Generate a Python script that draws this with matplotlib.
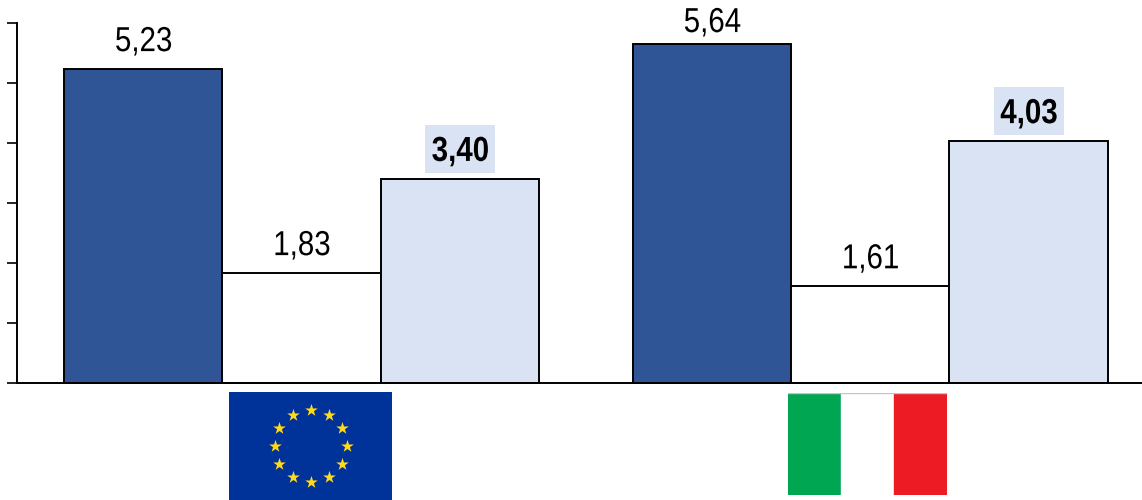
import numpy as np
import matplotlib
matplotlib.use('Agg')
import matplotlib.pyplot as plt
from matplotlib.patches import Rectangle
from matplotlib.path import Path
from matplotlib.patheffects import AbstractPathEffect
from matplotlib.transforms import Affine2D

plt.rcParams['font.family'] = ['Liberation Sans', 'DejaVu Sans']

# valori
first_vals = [5.23, 5.64]
second_vals = [1.83, 1.61]
third_vals = [3.40, 4.03]
y_ticks = [0, 1, 2, 3, 4, 5, 6]

W, H = 1142, 500
fig = plt.figure(figsize=(W / 100, H / 100), dpi=100)


class Narrow(AbstractPathEffect):
    # il riferimento usa un font stretto, qui si comprime il testo in orizzontale
    def __init__(self, sx):
        super().__init__()
        self.sx = sx

    def draw_path(self, renderer, gc, tpath, affine, rgbFace=None):
        xs = tpath.vertices[:, 0]
        cx = (xs.min() + xs.max()) / 2
        squeeze = Affine2D().translate(-cx, 0).scale(self.sx, 1).translate(cx, 0)
        renderer.draw_path(gc, tpath, squeeze + affine, rgbFace)


def label_box(x0, y0, width, height, mutation_size):
    # riquadro fisso 70x48 px, un po' piu in alto del testo
    cx, cy = x0 + width / 2, y0 + height / 2 + 2.5
    return Path([(cx - 35, cy - 24), (cx + 35, cy - 24), (cx + 35, cy + 24),
                 (cx - 35, cy + 24), (cx - 35, cy - 24)], closed=True)


def px_axes(x0, y0, x1, y1, **kw):
    # rettangolo in pixel, origine in alto a sinistra
    return fig.add_axes([x0 / W, 1 - y1 / H, (x1 - x0) / W, (y1 - y0) / H], **kw)


ax = px_axes(17, 22.5, 1142, 382.5)
ax.set_xlim(17, 1142)
ax.set_ylim(0, 6)

width = 158.3
centers = np.array([301.6, 870.2])
colors = ['#2F5597', 'white', '#DAE3F3']
series = [first_vals, second_vals, third_vals]

for i, vals in enumerate(series):
    xs = centers + (i - 1) * width
    ax.bar(xs, vals, width=width, color=colors[i], edgecolor='black', linewidth=1.4, clip_on=False, zorder=2)
    for x, v in zip(xs, vals):
        txt = f'{v:.2f}'.replace('.', ',')
        kw = {}
        if i == 2:
            kw = dict(fontweight='bold', bbox=dict(boxstyle=label_box, facecolor='#DAE3F3', edgecolor='none'))
        # l'etichetta piu alta resta dentro la figura
        dy = 15.5 if v > 5.5 else 19.5
        ax.annotate(txt, (x, v), xytext=(0.4, dy), textcoords='offset points',
                    ha='center', va='center', fontsize=25, color='black',
                    path_effects=[Narrow(0.85)], **kw)

for s in ['top', 'right']:
    ax.spines[s].set_visible(False)
ax.spines['left'].set_linewidth(1.4)
ax.spines['bottom'].set_linewidth(1.4)
ax.spines['bottom'].set_zorder(3)
ax.set_xticks([])
ax.set_yticks(y_ticks)
ax.set_yticklabels([])
ax.tick_params(axis='y', length=7.5, width=1.2, direction='out')

# bandiera UE
eu = px_axes(229, 392, 392, 500)
eu.set_xlim(229, 392)
eu.set_ylim(500, 392)
eu.axis('off')
eu.add_patch(Rectangle((229, 392), 163, 108, color='#003399'))
ang = np.arange(12) * np.pi / 6
eu.scatter(310.5 + 36 * np.cos(ang), 446 + 36 * np.sin(ang), marker='*', s=90,
           color='#FFD91A', linewidths=0)

# bandiera Italia
it = px_axes(788, 393, 947, 495)
it.set_xlim(0, 3)
it.set_ylim(0, 1)
it.axis('off')
for k, c in enumerate(['#00A651', 'white', '#ED1C24']):
    it.add_patch(Rectangle((k, 0), 1, 1, color=c))
it.plot([0, 3], [1, 1], color='#C4C4C4', lw=1, clip_on=True)

fig.savefig('out.png', dpi=100)
